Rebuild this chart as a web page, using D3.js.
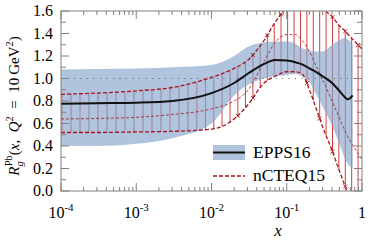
<!DOCTYPE html>
<html>
<head>
<meta charset="utf-8">
<script src="https://cdn.jsdelivr.net/npm/d3@7"></script>
<style>
  body { margin: 0; background: #fff; }
  #chart { position: relative; width: 374px; height: 240px; }
  svg { display: block; position: absolute; left: 0; top: 0; }
  .lbl { position: absolute; white-space: nowrap; color: #000; font-family: "Times New Roman", "Liberation Serif", serif; }
  .sup, .sub { position: relative; }
</style>
</head>
<body>
<div id="chart"></div>
<script>
// nCTEQ15 grid and curves
const nGrid    = [1e-4, 3e-4, 1e-3, 3e-3, 1e-2, 0.02, 0.03, 0.05, 0.07, 0.1, 0.13, 0.16, 0.2, 0.25, 0.3, 0.4, 0.5, 0.6, 0.7, 0.8, 1];
const nUpper   = [0.86, 0.87, 0.89, 0.92, 1.01, 1.09, 1.16, 1.34, 1.50, 1.63, 1.70, 1.72, 1.72, 1.68, 1.62, 1.55, 1.47, 1.42, 1.37, 1.33, 1.26];
const nCentral = [0.64, 0.645, 0.655, 0.68, 0.73, 0.80, 0.89, 1.15, 1.32, 1.39, 1.39, 1.34, 1.24, 1.10, 0.99, 0.80, 0.65, 0.53, 0.44, 0.38, 0.28];
const nLower   = [0.52, 0.52, 0.525, 0.53, 0.55, 0.64, 0.76, 0.96, 1.02, 1.06, 1.06, 1.04, 0.90, 0.72, 0.57, 0.36, 0.18, 0.04, -0.06, -0.15, -0.35];

// EPPS16 grid and curves
const eGrid    = [1e-4, 3e-4, 1e-3, 3e-3, 1e-2, 0.02, 0.03, 0.05, 0.07, 0.1, 0.13, 0.16, 0.2, 0.25, 0.3, 0.4, 0.5, 0.6, 0.65, 0.75];
const eCentral = [0.775, 0.78, 0.785, 0.80, 0.87, 0.96, 1.04, 1.13, 1.165, 1.16, 1.145, 1.125, 1.09, 1.055, 1.02, 0.96, 0.89, 0.83, 0.815, 0.85];
const eUpper   = [1.08, 1.085, 1.09, 1.10, 1.12, 1.20, 1.28, 1.32, 1.33, 1.33, 1.31, 1.27, 1.25, 1.24, 1.24, 1.30, 1.34, 1.36, 1.35, 1.30];
const eLower   = [0.40, 0.40, 0.42, 0.47, 0.60, 0.85, 0.94, 1.00, 1.02, 1.03, 1.04, 1.02, 0.97, 0.85, 0.75, 0.58, 0.42, 0.28, 0.24, 0.20];

const yTicks = [0, 0.2, 0.4, 0.6, 0.8, 1.0, 1.2, 1.4, 1.6];
const xTicks = [1e-4, 1e-3, 1e-2, 1e-1, 1];
const xTickExp = ["-4", "-3", "-2", "-1", null];
const legendNames = ["EPPS16", "nCTEQ15"];

const width = 374, height = 240;
const frameColor = "#808080";
const red = "#a8141c";
const hatchColor = "#cc2a2a";
const bandColor = "#86a4cc";
const ASC = 0.8375; // baseline offset of a Times-like font with line-height 1

const x = d3.scaleLog().domain([1e-4, 1]).range([61, 362]);
const y = d3.scaleLinear().domain([0, 1.6]).range([191, 11]);

const chart = d3.select("#chart");
const svg = chart.append("svg")
    .attr("width", width).attr("height", height);

svg.append("defs").append("clipPath").attr("id", "plot")
    .append("rect").attr("x", 61).attr("y", 11).attr("width", 301).attr("height", 180);

const plot = svg.append("g").attr("clip-path", "url(#plot)");

const line = (grid, vals) => d3.line()
    .x((d, i) => x(grid[i])).y(d => y(d))
    .curve(d3.curveMonotoneX)(vals);

// hidden paths to look up the curves for the hatching
const upperPath = svg.append("path").attr("d", line(nGrid, nUpper)).attr("fill", "none").attr("stroke", "none");
const lowerPath = svg.append("path").attr("d", line(nGrid, nLower)).attr("fill", "none").attr("stroke", "none");

function yAt(node, px) {
    let lo = 0, hi = node.getTotalLength();
    for (let k = 0; k < 30; k++) {
        const mid = (lo + hi) / 2;
        if (node.getPointAtLength(mid).x < px) lo = mid; else hi = mid;
    }
    return node.getPointAtLength((lo + hi) / 2).y;
}

// hatch positions, a little tighter towards large x
const hatchX = [];
for (let px = 62; px <= 362; ) {
    hatchX.push(px);
    let step = 9;
    if (px > 180) step = 9 - 2.6 * Math.min(1, (px - 180) / 110);
    px += step;
}

plot.append("g").selectAll("line").data(hatchX).join("line")
    .attr("x1", d => d).attr("x2", d => d)
    .attr("y1", d => yAt(upperPath.node(), d))
    .attr("y2", d => yAt(lowerPath.node(), d))
    .attr("stroke", hatchColor).attr("stroke-width", 0.9);

// EPPS16 band
plot.append("path")
    .attr("d", d3.area()
        .x((d, i) => x(eGrid[i]))
        .y0((d, i) => y(eLower[i]))
        .y1(d => y(d))
        .curve(d3.curveMonotoneX)(eUpper))
    .attr("fill", bandColor).attr("fill-opacity", 0.65);

// reference line at 1
plot.append("line")
    .attr("x1", x(1e-4)).attr("x2", x(1)).attr("y1", y(1)).attr("y2", y(1))
    .attr("stroke", "#555").attr("stroke-width", 0.9).attr("stroke-dasharray", "1,5.5");

// nCTEQ15 error edges
[nUpper, nLower].forEach(vals => {
    plot.append("path").attr("d", line(nGrid, vals))
        .attr("fill", "none").attr("stroke", red)
        .attr("stroke-width", 1.3).attr("stroke-dasharray", "4,2");
});

// little crosses on the steep parts of the edges
const marks = [];
[upperPath, lowerPath].forEach(p => {
    hatchX.forEach((px, i) => {
        if (i % 2) return;
        const yy = yAt(p.node(), px);
        const slope = Math.abs(yAt(p.node(), px + 1) - yAt(p.node(), px - 1)) / 2;
        if (slope > 0.9) marks.push([px, yy]);
    });
});
plot.append("g").selectAll("path").data(marks).join("path")
    .attr("d", d => `M${d[0] - 2},${d[1] - 2}L${d[0] + 2},${d[1] + 2}M${d[0] - 2},${d[1] + 2}L${d[0] + 2},${d[1] - 2}`)
    .attr("stroke", red).attr("stroke-width", 0.9);

// nCTEQ15 central
plot.append("path").attr("d", line(nGrid, nCentral))
    .attr("fill", "none").attr("stroke", red)
    .attr("stroke-width", 0.8).attr("stroke-dasharray", "3,2");

// EPPS16 central
plot.append("path").attr("d", line(eGrid, eCentral))
    .attr("fill", "none").attr("stroke", "#111").attr("stroke-width", 2);

// frame and ticks
svg.append("rect").attr("x", 61).attr("y", 11).attr("width", 301).attr("height", 180)
    .attr("fill", "none").attr("stroke", frameColor).attr("stroke-width", 1);

const yMinor = d3.range(0.1, 1.6, 0.2);
const ticksG = svg.append("g").attr("stroke", frameColor).attr("stroke-width", 1);
[[yTicks, 8], [yMinor, 5]].forEach(([vals, len]) => {
    vals.forEach(v => {
        ticksG.append("line").attr("x1", 61).attr("x2", 61 + len).attr("y1", y(v)).attr("y2", y(v));
        ticksG.append("line").attr("x1", 362).attr("x2", 362 - len).attr("y1", y(v)).attr("y2", y(v));
    });
});
const xMinor = [];
[1e-4, 1e-3, 1e-2, 1e-1].forEach(dec => d3.range(2, 10).forEach(m => xMinor.push(dec * m)));
[[xTicks, 8], [xMinor, 4]].forEach(([vals, len]) => {
    vals.forEach(v => {
        ticksG.append("line").attr("x1", x(v)).attr("x2", x(v)).attr("y1", 191).attr("y2", 191 - len);
        ticksG.append("line").attr("x1", x(v)).attr("x2", x(v)).attr("y1", 11).attr("y2", 11 + len);
    });
});

// legend swatches
const lg = svg.append("g");
lg.append("rect").attr("x", 213).attr("y", 145).attr("width", 32).attr("height", 15)
    .attr("fill", bandColor).attr("fill-opacity", 0.65);
lg.append("line").attr("x1", 213).attr("x2", 245).attr("y1", 152.5).attr("y2", 152.5)
    .attr("stroke", "#111").attr("stroke-width", 2);
lg.append("line").attr("x1", 213).attr("x2", 245).attr("y1", 176).attr("y2", 176)
    .attr("stroke", red).attr("stroke-width", 1.3).attr("stroke-dasharray", "4,2");

// text as html on top of the svg
function label(px, baseline, size, anchor) {
    const shift = anchor === "end" ? "-100%" : anchor === "middle" ? "-50%" : "0";
    return chart.append("div").attr("class", "lbl")
        .style("left", px + "px")
        .style("top", (baseline - ASC * size) + "px")
        .style("font-size", size + "px")
        .style("line-height", size + "px")
        .style("transform", `translateX(${shift})`);
}

yTicks.forEach(v => {
    label(53, y(v) + 5.5, 16, "end").text(v.toFixed(1));
});

xTicks.forEach((v, i) => {
    const t = label(x(v), 218, 16, "middle");
    if (xTickExp[i] === null) {
        t.text("1");
    } else {
        t.append("span").text("10");
        t.append("span").attr("class", "sup").style("font-size", "11px").style("top", "-7px").text(xTickExp[i]);
    }
});

label(278, 236, 17, "middle").style("font-style", "italic").text("x");

label(253, 159, 17.5, "start").text(legendNames[0]);
label(253, 182, 17.5, "start").text(legendNames[1]);

// rotated y title
const yl = chart.append("div").attr("class", "lbl")
    .style("left", "20px").style("top", "106px")
    .style("font-size", "15px").style("line-height", "15px")
    .style("transform-origin", "0 0")
    .style("transform", `rotate(-90deg) translate(-50%, -${ASC * 15}px)`);
const sm = "10.5px";
yl.append("i").text("R");
yl.append("i").attr("class", "sub").style("font-size", sm).style("top", "4px").text("g");
yl.append("span").attr("class", "sup").style("font-size", sm).style("top", "-7px")
    .style("margin-left", "-5px").text("Pb");
yl.append("span").text("(");
yl.append("i").text("x");
yl.append("span").text(",\u2002");
yl.append("i").text("Q");
yl.append("span").attr("class", "sup").style("font-size", sm).style("top", "-6px").text("2");
yl.append("span").text("\u2002=\u200210\u2009GeV");
yl.append("span").attr("class", "sup").style("font-size", sm).style("top", "-6px").text("2");
yl.append("span").text(")");
</script>
</body>
</html>
